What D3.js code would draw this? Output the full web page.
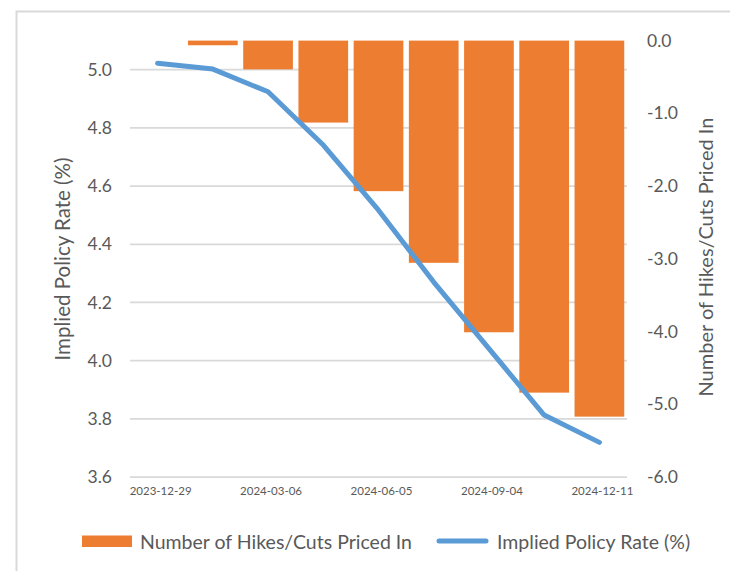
<!DOCTYPE html>
<html>
<head>
<meta charset="utf-8">
<script src="https://cdn.jsdelivr.net/npm/d3@7/dist/d3.min.js"></script>
<style>
  html, body { margin: 0; padding: 0; background: #fff; }
  svg { display: block; font-family: Lato, "Open Sans", sans-serif; }
  text { fill: #595959; }
</style>
</head>
<body>
<svg id="chart" width="730" height="571"></svg>
<script>
// Bank of Canada meeting dates
const dates = ["2023-12-29", "2024-01-24", "2024-03-06", "2024-04-10", "2024-06-05",
               "2024-07-24", "2024-09-04", "2024-10-23", "2024-12-11"];
// Number of hikes/cuts priced in (bars, right axis)
const hikesCuts = [0, -0.064, -0.395, -1.127, -2.07, -3.055, -4.01, -4.84, -5.17];
// Implied policy rate, % (line, left axis)
const impliedRate = [5.022, 5.002, 4.924, 4.741, 4.517, 4.27, 4.041, 3.813, 3.719];
// Axis ticks
const leftTicks = [3.6, 3.8, 4.0, 4.2, 4.4, 4.6, 4.8, 5.0];
const rightTicks = [0, -1, -2, -3, -4, -5, -6];
const dateLabels = ["2023-12-29", "2024-03-06", "2024-06-05", "2024-09-04", "2024-12-11"];

const barColor = "#ED7D31";
const lineColor = "#5B9BD5";
const gridColor = "#d9d9d9";

const svg = d3.select("#chart");

// outer chart frame
svg.append("rect")
  .attr("x", 16.5).attr("y", 11.5)
  .attr("width", 760).attr("height", 600)
  .attr("fill", "none").attr("stroke", gridColor).attr("stroke-width", 2);

const plot = { left: 130, right: 627, top: 40.6, bottom: 477 };

const x = d3.scaleBand()
  .domain(dates)
  .range([plot.left, plot.right])
  .paddingInner(0.1)
  .paddingOuter(0.05);

const yL = d3.scaleLinear().domain([3.6, 5.1]).range([plot.bottom, plot.top]);
const yR = d3.scaleLinear().domain([-6, 0]).range([plot.bottom, plot.top]);

// horizontal gridlines from the left axis
svg.append("g")
  .selectAll("line")
  .data(leftTicks)
  .join("line")
  .attr("x1", plot.left).attr("x2", plot.right)
  .attr("y1", d => yL(d)).attr("y2", d => yL(d))
  .attr("stroke", gridColor).attr("stroke-width", 1.75);

// left axis labels
const leftAxis = d3.axisLeft(yL).tickValues(leftTicks).tickFormat(d3.format(".1f")).tickSize(0).tickPadding(0);
const gL = svg.append("g").attr("transform", "translate(112,0)").call(leftAxis);
gL.select(".domain").remove();
gL.selectAll("text").attr("font-size", 17.5).attr("fill", "#595959").style("font-family", "Lato, sans-serif");

// right axis labels
const rightAxis = d3.axisRight(yR).tickValues(rightTicks).tickFormat(d3.format(".1f")).tickSize(0).tickPadding(0);
const gR = svg.append("g").attr("transform", "translate(647,0)").call(rightAxis);
gR.select(".domain").remove();
gR.selectAll("text").attr("font-size", 17.5).attr("fill", "#595959").style("font-family", "Lato, sans-serif")
  .text(d => d3.format(".1f")(d).replace("−", "-"));

// bottom category labels (every other date)
const bottomAxis = d3.axisBottom(x).tickValues(dateLabels).tickSize(0).tickPadding(0);
const gB = svg.append("g").attr("transform", "translate(3,487)").call(bottomAxis);
gB.select(".domain").remove();
gB.selectAll("text").attr("font-size", 11.5).attr("fill", "#595959").style("font-family", "Lato, sans-serif");

// bars
svg.append("g")
  .selectAll("rect")
  .data(dates.map((d, i) => ({ d, v: hikesCuts[i] })))
  .join("rect")
  .attr("x", p => x(p.d))
  .attr("width", x.bandwidth())
  .attr("y", p => yR(Math.max(0, p.v)))
  .attr("height", p => Math.abs(yR(p.v) - yR(0)))
  .attr("fill", barColor);

// line
const line = d3.line()
  .x((v, i) => x(dates[i]) + x.bandwidth() / 2)
  .y(v => yL(v));
svg.append("path")
  .datum(impliedRate)
  .attr("d", line)
  .attr("fill", "none")
  .attr("stroke", lineColor)
  .attr("stroke-width", 5)
  .attr("stroke-linecap", "round")
  .attr("stroke-linejoin", "round");

// axis titles
svg.append("text")
  .attr("transform", "translate(70,259) rotate(-90)")
  .attr("text-anchor", "middle")
  .attr("font-size", 20.5)
  .text("Implied Policy Rate (%)");

svg.append("text")
  .attr("transform", "translate(713,257) rotate(-90)")
  .attr("text-anchor", "middle")
  .attr("font-size", 20)
  .text("Number of Hikes/Cuts Priced In");

// legend
const legend = svg.append("g");
legend.append("rect")
  .attr("x", 82).attr("y", 535.5).attr("width", 50).attr("height", 11.5)
  .attr("fill", barColor);
legend.append("text")
  .attr("x", 140).attr("y", 542).attr("dy", "0.35em")
  .attr("font-size", 19.5)
  .text("Number of Hikes/Cuts Priced In");
legend.append("line")
  .attr("x1", 439).attr("x2", 486).attr("y1", 541).attr("y2", 541)
  .attr("stroke", lineColor).attr("stroke-width", 5).attr("stroke-linecap", "round");
legend.append("text")
  .attr("x", 497).attr("y", 542).attr("dy", "0.35em")
  .attr("font-size", 19.5)
  .text("Implied Policy Rate (%)");
</script>
</body>
</html>
